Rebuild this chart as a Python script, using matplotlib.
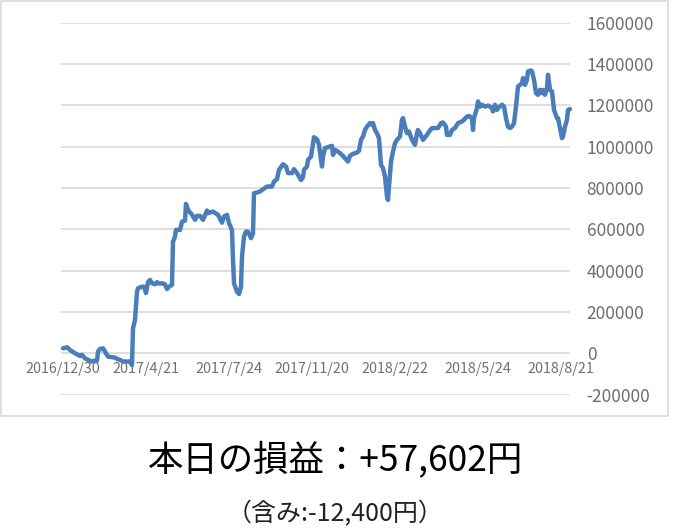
import matplotlib
matplotlib.use('Agg')
import matplotlib.pyplot as plt
from matplotlib.patches import Rectangle

plt.rcParams['font.family'] = ['Noto Sans CJK JP', 'DejaVu Sans']

# point index (trading day count from first date) and cumulative P/L
day_idx = [
    0, 4, 7, 12, 17, 19, 22, 25, 29, 31, 34, 35, 37, 40, 42, 45, 49, 52, 54, 57,
    60, 64, 67, 69, 70, 72, 74, 75, 79, 81, 83, 85, 87, 89, 92, 94, 96, 99, 102, 104,
    106, 109, 110, 112, 113, 117, 119, 122, 123, 125, 129, 132, 134, 137, 140, 144, 145, 150, 155, 159,
    161, 164, 166, 169, 170, 171, 174, 176, 178, 179, 181, 183, 185, 188, 190, 191, 194, 197, 200, 204,
    209, 211, 214, 216, 220, 223, 225, 229, 231, 234, 238, 240, 241, 244, 245, 248, 250, 251, 254, 256,
    258, 259, 260, 262, 265, 269, 270, 272, 275, 279, 282, 285, 287, 290, 294, 296, 298, 300, 302, 304,
    307, 309, 310, 312, 314, 316, 318, 320, 322, 324, 325, 326, 328, 330, 332, 334, 337, 339, 340, 342,
    344, 346, 349, 352, 354, 355, 357, 360, 362, 364, 366, 369, 372, 375, 378, 380, 383, 384, 387, 389,
    392, 395, 399, 401, 404, 406, 409, 410, 411, 414, 415, 417, 419, 422, 425, 429, 430, 432, 434, 435,
    439, 441, 443, 445, 447, 449, 451, 453, 455, 457, 459, 460, 462, 464, 465, 468, 469, 471, 473, 475,
    477, 479, 480, 482, 484, 485, 487, 489, 491, 494, 495, 497, 499, 500, 502, 504, 505, 507,
]
pnl = [
    24000, 29000, 16000, 0, -13000, -8000, -24000, -32000, -40000, -36000, -36000, 8000, 21000, 24000, 8000, -16000, -19000, -21000, -27000, -32000,
    -40000, -40000, -40000, -57000, 121000, 161000, 298000, 315000, 322000, 322000, 292000, 344000, 355000, 339000, 334000, 344000, 337000, 339000, 334000, 311000,
    322000, 331000, 540000, 565000, 597000, 597000, 637000, 642000, 723000, 694000, 670000, 646000, 665000, 665000, 646000, 691000, 678000, 686000, 670000, 632000,
    662000, 670000, 630000, 597000, 452000, 339000, 298000, 287000, 322000, 468000, 565000, 589000, 589000, 557000, 581000, 775000, 778000, 783000, 794000, 807000,
    807000, 831000, 843000, 888000, 915000, 904000, 872000, 872000, 891000, 872000, 839000, 852000, 888000, 904000, 936000, 952000, 1017000, 1046000, 1036000, 1009000,
    936000, 904000, 952000, 993000, 998000, 1004000, 960000, 985000, 976000, 960000, 944000, 928000, 956000, 965000, 972000, 980000, 1033000, 1049000, 1081000, 1097000,
    1114000, 1106000, 1114000, 1081000, 1065000, 1041000, 912000, 896000, 855000, 758000, 742000, 807000, 928000, 976000, 1017000, 1033000, 1049000, 1130000, 1138000, 1097000,
    1065000, 1073000, 1033000, 1009000, 1065000, 1081000, 1065000, 1033000, 1045000, 1057000, 1073000, 1090000, 1090000, 1090000, 1114000, 1117000, 1097000, 1057000, 1057000, 1081000,
    1090000, 1114000, 1122000, 1130000, 1146000, 1149000, 1138000, 1081000, 1138000, 1187000, 1219000, 1194000, 1203000, 1194000, 1199000, 1187000, 1170000, 1203000, 1178000, 1187000,
    1203000, 1194000, 1138000, 1097000, 1090000, 1097000, 1114000, 1194000, 1291000, 1299000, 1308000, 1332000, 1299000, 1324000, 1364000, 1369000, 1364000, 1324000, 1259000, 1251000,
    1275000, 1259000, 1275000, 1251000, 1283000, 1348000, 1275000, 1267000, 1178000, 1138000, 1138000, 1090000, 1041000, 1049000, 1097000, 1130000, 1178000, 1182000,
]

date_ticks = [0, 83, 166, 249, 332, 415, 498]
date_labels = ['2016/12/30', '2017/4/21', '2017/7/24', '2017/11/20', '2018/2/22', '2018/5/24', '2018/8/21']
y_ticks = [-200000, 0, 200000, 400000, 600000, 800000, 1000000, 1200000, 1400000, 1600000]

title_text = '本日の損益：+57,602円'
sub_text = '（含み:-12,400円）'

fig = plt.figure(figsize=(6.73, 5.28), dpi=100)

# chart frame
fig.patches.append(Rectangle((1 / 673, 1 - 416 / 528), 667 / 673, 415 / 528,
                             transform=fig.transFigure, fill=False,
                             edgecolor='#d9d9d9', linewidth=1.2))

ax = fig.add_axes([61 / 673, 1 - 394.6 / 528, 509 / 673, (394.6 - 22.7) / 528])
ax.plot(day_idx, pnl, color='#4a7ebb', linewidth=3.2,
        solid_joinstyle='round', solid_capstyle='round', clip_on=False, zorder=3)

ax.set_xlim(-2, 507)
ax.set_ylim(-200000, 1600000)
ax.set_yticks(y_ticks)
ax.set_yticklabels([str(v) for v in y_ticks])
ax.yaxis.tick_right()
ax.tick_params(axis='y', length=0, pad=12, labelsize=12.5, labelcolor='#6e6e6e')
ax.set_xticks(date_ticks)
ax.set_xticklabels(date_labels)
ax.tick_params(axis='x', length=0, pad=6.5, labelsize=10.3, labelcolor='#707070')
ax.spines['bottom'].set_position(('data', 0))
for s in ax.spines.values():
    s.set_color('none')
ax.grid(axis='y', color='#d9d9d9', linewidth=1.2)
ax.set_axisbelow(True)

fig.text(0.4985, 1 - 459.5 / 528, title_text, ha='center', va='center', fontsize=25.5, color='black')
fig.text(0.4985, 1 - 514 / 528, sub_text, ha='center', va='center', fontsize=18, color='#222222')

fig.savefig('out.png', dpi=100)
